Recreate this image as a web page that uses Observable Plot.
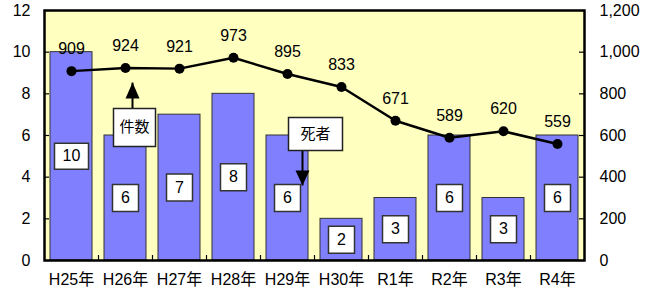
<!DOCTYPE html>
<html><head><meta charset="utf-8">
<script src="https://cdn.jsdelivr.net/npm/d3@7"></script>
<script src="https://cdn.jsdelivr.net/npm/@observablehq/plot@0.6"></script>
<style>body{margin:0;background:#fff} svg{display:block}</style>
</head><body><div id="chart"></div>
<script>
const years = ["H25年","H26年","H27年","H28年","H29年","H30年","R1年","R2年","R3年","R4年"];
const deaths = [10,6,7,8,6,2,3,6,3,6];
const cases = [909,924,921,973,895,833,671,589,620,559];
const leftTicks = [0,2,4,6,8,10,12];
const rightTicks = [0,200,400,600,800,1000,1200];
const annoLabels = ["件数","死者"];
const annoYears = ["H26年","H29年"];
const annoBoxY = [6.38, 6.07];
const annoEdgeY = [7.3, 5.28];
const annoTipY = [8.54, 3.6];

const rows = years.map((y,i)=>({year:y, deaths:deaths[i], cases:cases[i]}));
const annos = annoLabels.map((l,i)=>({label:l, year:annoYears[i], box:annoBoxY[i], edge:annoEdgeY[i], tip:annoTipY[i]}));

const boxSym = (w,h)=>({draw(ctx){ctx.moveTo(-w/2,-h/2);ctx.lineTo(w/2,-h/2);ctx.lineTo(w/2,h/2);ctx.lineTo(-w/2,h/2);ctx.closePath();}});
const upHead = {draw(ctx){ctx.moveTo(0,0);ctx.lineTo(7,16);ctx.lineTo(-7,16);ctx.closePath();}};
const downHead = {draw(ctx){ctx.moveTo(0,0);ctx.lineTo(7,-15);ctx.lineTo(-7,-15);ctx.closePath();}};
const font = "'Liberation Sans','Noto Sans CJK JP',sans-serif";

const chart = Plot.plot({
  width: 650, height: 295,
  marginLeft: 44, marginRight: 66, marginTop: 10, marginBottom: 35,
  style: {fontFamily: font, background: "transparent", color: "#000"},
  x: {domain: years, paddingInner: 0.22, paddingOuter: 0.11, label: null},
  y: {domain: [0, 12], label: null},
  marks: [
    Plot.frame({fill: "#FFFFC0", stroke: null}),
    Plot.barY(rows, {x: "year", y: "deaths", fill: "#8080FF", stroke: "#333", strokeWidth: 1}),
    Plot.tickY(leftTicks, {y: d=>d, insetRight: 535, stroke: "#000", strokeWidth: 1.2}),
    Plot.tickY(leftTicks, {y: d=>d, insetLeft: 535, stroke: "#000", strokeWidth: 1.2}),
    Plot.tickX(years.slice(1), {x: d=>d, dx: -27, insetTop: 245, stroke: "#000", strokeWidth: 1.2}),
    Plot.line(rows, {x: "year", y: d=>d.cases/100, stroke: "#000", strokeWidth: 2.5}),
    Plot.dot(rows, {x: "year", y: d=>d.cases/100, r: 5, fill: "#000"}),
    Plot.text(rows, {x: "year", y: d=>d.cases/100, text: d=>String(d.cases), dy: -22, fontSize: 16}),
    Plot.dot(rows.filter(d=>d.deaths<10), {x: "year", y: d=>d.deaths/2, symbol: boxSym(26,27), fill: "#fff", stroke: "#333", strokeWidth: 1.5}),
    Plot.dot(rows.filter(d=>d.deaths>=10), {x: "year", y: d=>d.deaths/2, symbol: boxSym(34,26), fill: "#fff", stroke: "#333", strokeWidth: 1.5}),
    Plot.text(rows, {x: "year", y: d=>d.deaths/2, text: d=>String(d.deaths), fontSize: 16}),
    // annotations
    Plot.link(annos.slice(0,1), {x1: "year", x2: "year", y1: "edge", y2: "tip", dx: 7, stroke: "#000", strokeWidth: 2}),
    Plot.dot(annos.slice(0,1), {x: "year", y: "tip", dx: 7, symbol: upHead, fill: "#000"}),
    Plot.link(annos.slice(1), {x1: "year", x2: "year", y1: "edge", y2: "tip", dx: 15, stroke: "#000", strokeWidth: 2}),
    Plot.dot(annos.slice(1), {x: "year", y: "tip", dx: 15, symbol: downHead, fill: "#000"}),
    Plot.dot(annos.slice(0,1), {x: "year", y: "box", dx: 9, symbol: boxSym(42,38), fill: "#fff", stroke: "#222", strokeWidth: 1.5}),
    Plot.dot(annos.slice(1), {x: "year", y: "box", dx: 28, symbol: boxSym(54,33), fill: "#fff", stroke: "#222", strokeWidth: 1.5}),
    Plot.text(annos.slice(0,1), {x: "year", y: "box", dx: 9, text: "label", fontSize: 15}),
    Plot.text(annos.slice(1), {x: "year", y: "box", dx: 28, text: "label", fontSize: 15}),
    Plot.axisY({anchor: "left", ticks: leftTicks, tickSize: 0, tickPadding: 14, fontSize: 16, label: null}),
    Plot.axisY({anchor: "right", ticks: leftTicks, tickSize: 0, tickPadding: 15, fontSize: 16, label: null,
      tickFormat: d=>d3.format(",")(rightTicks[leftTicks.indexOf(d)])}),
    Plot.axisX({tickSize: 0, tickPadding: 13, fontSize: 16, label: null}),
    Plot.frame({stroke: "#000", strokeWidth: 2.5})
  ]
});
document.getElementById("chart").append(chart);
</script>
</body></html>
